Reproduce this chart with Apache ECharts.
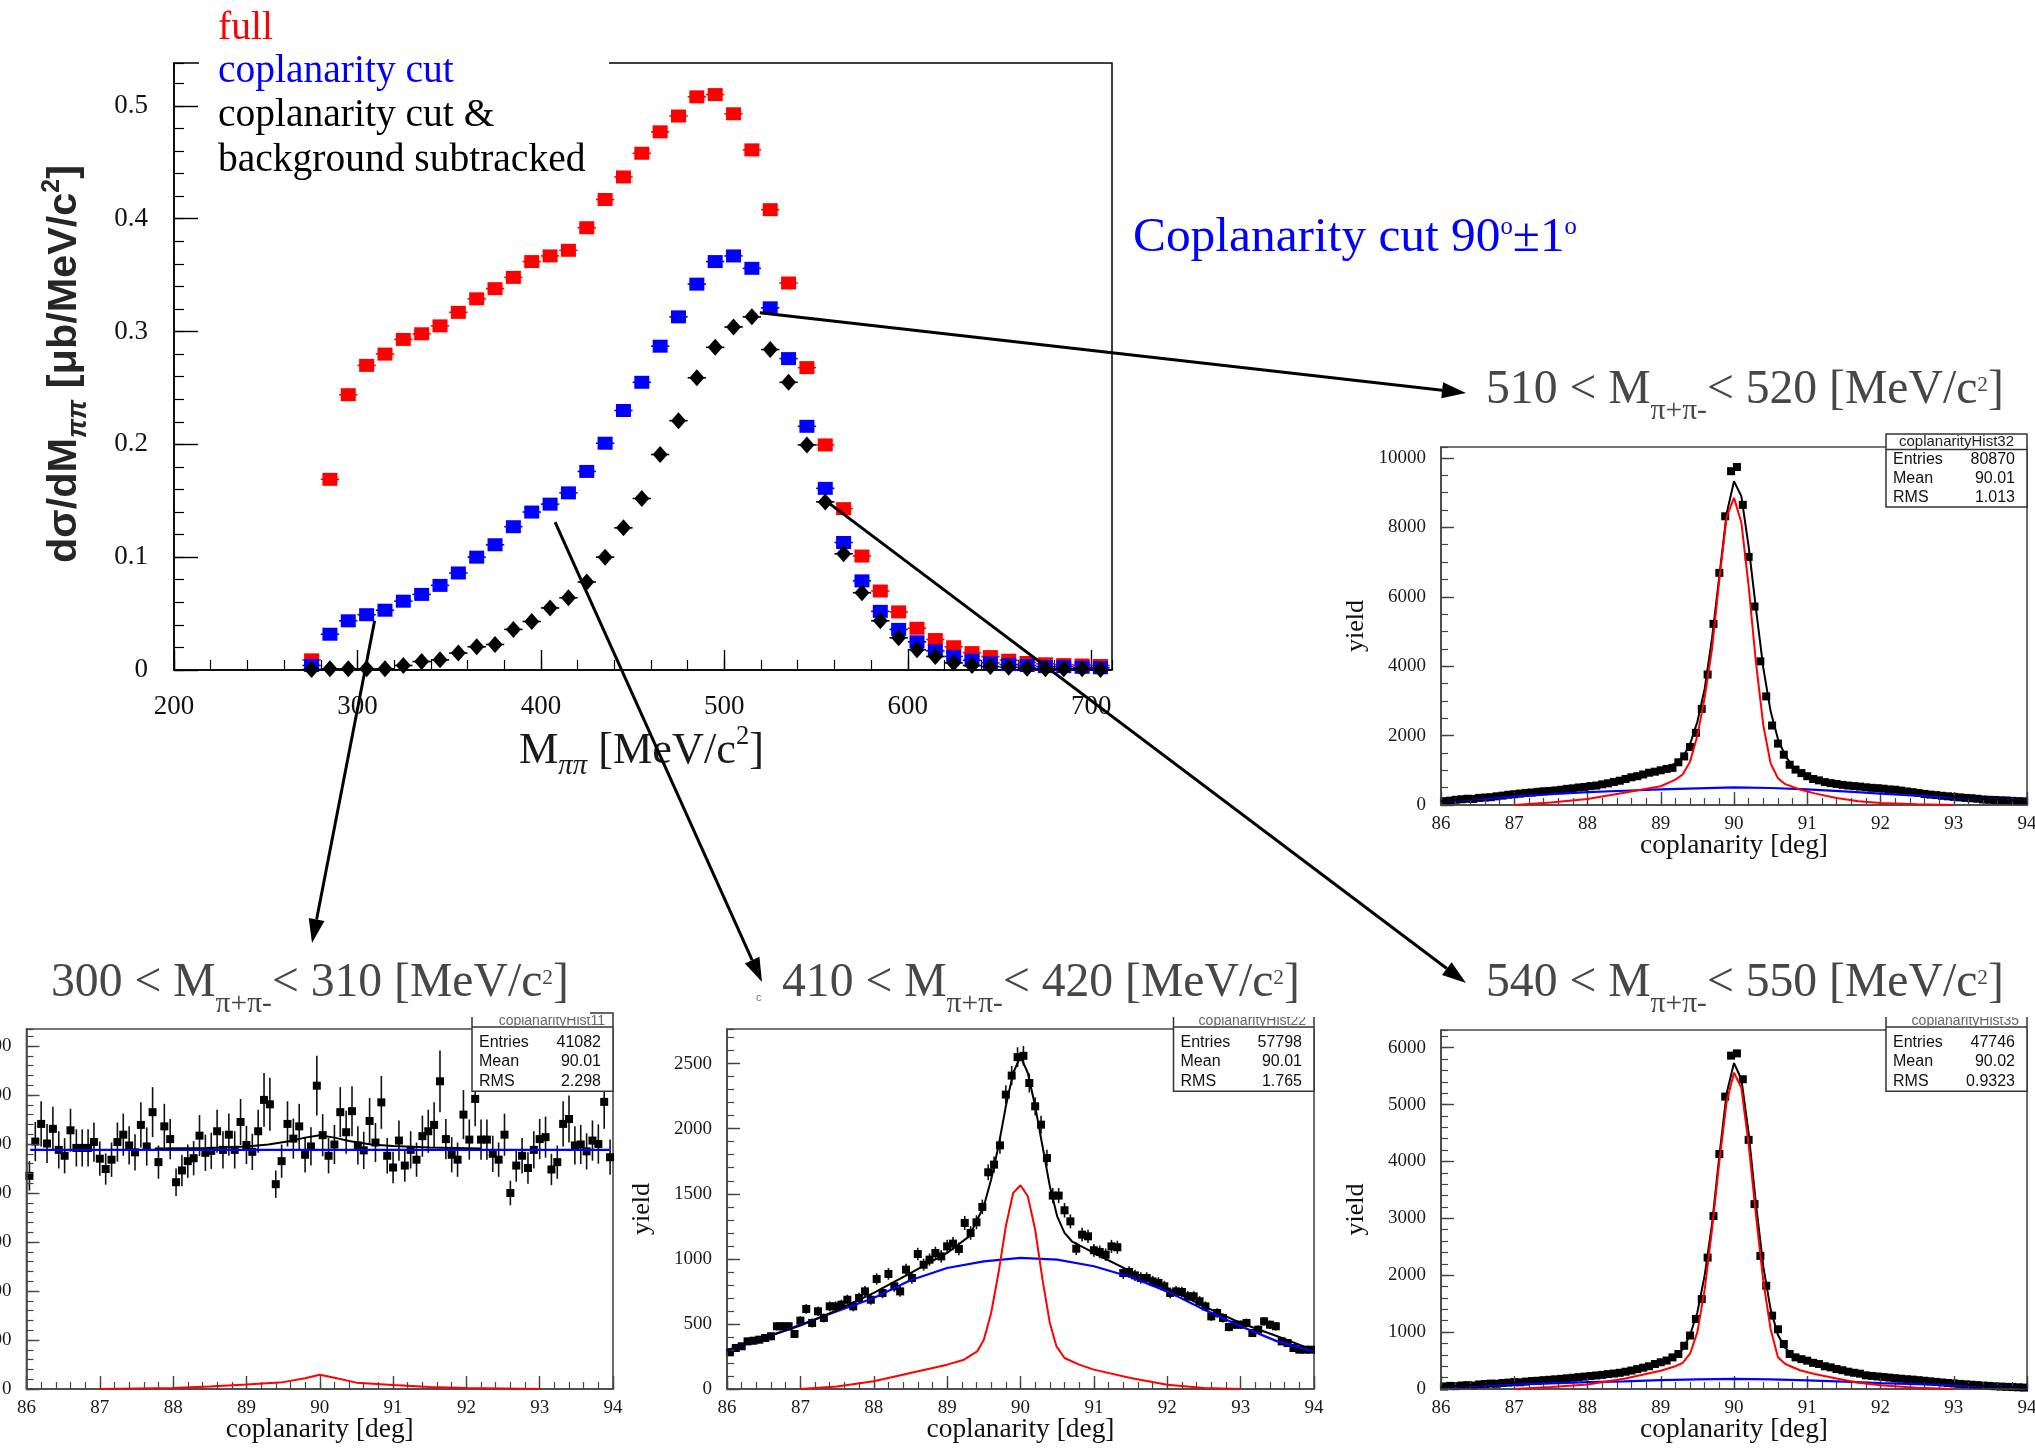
<!DOCTYPE html>
<html>
<head>
<meta charset="utf-8">
<script src="https://cdn.jsdelivr.net/npm/echarts/dist/echarts.min.js"></script>
<style>
  html, body { margin: 0; padding: 0; background: #fff; }
  #c { width: 2035px; height: 1452px; }
</style>
</head>
<body>
<div id="c"></div>
<script>
// ---------------------------------------------------------------------------
// d(sigma)/dM_pipi spectrum, 10 MeV bins
// ---------------------------------------------------------------------------
const massBins = [275, 285, 295, 305, 315, 325, 335, 345, 355, 365,
                  375, 385, 395, 405, 415, 425, 435, 445, 455, 465,
                  475, 485, 495, 505, 515, 525, 535, 545, 555, 565,
                  575, 585, 595, 605, 615, 625, 635, 645, 655, 665,
                  675, 685, 695, 705];
const sigmaFull = [0.009, 0.169, 0.244, 0.270, 0.280, 0.293, 0.298, 0.305, 0.317, 0.329,
                   0.338, 0.348, 0.362, 0.367, 0.372, 0.392, 0.417, 0.437, 0.458, 0.477,
                   0.491, 0.508, 0.510, 0.493, 0.461, 0.408, 0.343, 0.268, 0.1995, 0.143,
                   0.101, 0.070, 0.0515, 0.037, 0.027, 0.0206, 0.0154, 0.0119, 0.0087, 0.0067,
                   0.0055, 0.0048, 0.0044, 0.004];
const sigmaCoplanar = [0.004, 0.0317, 0.0436, 0.049, 0.053, 0.061, 0.067, 0.075, 0.086, 0.100,
                       0.111, 0.127, 0.140, 0.147, 0.157, 0.176, 0.201, 0.230, 0.255, 0.287,
                       0.313, 0.342, 0.362, 0.367, 0.356, 0.321, 0.276, 0.216, 0.161, 0.113,
                       0.079, 0.052, 0.036, 0.025, 0.017, 0.012, 0.0087, 0.0063, 0.0048, 0.004,
                       0.003, 0.003, 0.0024, 0.002];
const sigmaSubtracted = [0.0005, 0.001, 0.001, 0.001, 0.001, 0.004, 0.0075, 0.009, 0.015, 0.0206,
                         0.0226, 0.036, 0.043, 0.055, 0.064, 0.078, 0.100, 0.126, 0.152, 0.191,
                         0.221, 0.259, 0.286, 0.304, 0.313, 0.284, 0.255, 0.1995, 0.149, 0.103,
                         0.0685, 0.0436, 0.0285, 0.018, 0.012, 0.0063, 0.004, 0.003, 0.0024, 0.0016,
                         0.0012, 0.001, 0.001, 0.0004];
const MASS_BIN_HALF = 5;

// ---------------------------------------------------------------------------
// Coplanarity histograms, 100 bins of 0.08 deg between 86 and 94 deg
// ---------------------------------------------------------------------------
const coplanarityBins = [
  86.04, 86.12, 86.2, 86.28, 86.36, 86.44, 86.52, 86.6, 86.68, 86.76,
  86.84, 86.92, 87, 87.08, 87.16, 87.24, 87.32, 87.4, 87.48, 87.56,
  87.64, 87.72, 87.8, 87.88, 87.96, 88.04, 88.12, 88.2, 88.28, 88.36,
  88.44, 88.52, 88.6, 88.68, 88.76, 88.84, 88.92, 89, 89.08, 89.16,
  89.24, 89.32, 89.4, 89.48, 89.56, 89.64, 89.72, 89.8, 89.88, 89.96,
  90.04, 90.12, 90.2, 90.28, 90.36, 90.44, 90.52, 90.6, 90.68, 90.76,
  90.84, 90.92, 91, 91.08, 91.16, 91.24, 91.32, 91.4, 91.48, 91.56,
  91.64, 91.72, 91.8, 91.88, 91.96, 92.04, 92.12, 92.2, 92.28, 92.36,
  92.44, 92.52, 92.6, 92.68, 92.76, 92.84, 92.92, 93, 93.08, 93.16,
  93.24, 93.32, 93.4, 93.48, 93.56, 93.64, 93.72, 93.8, 93.88, 93.96];

// 510 < M < 520
const yield510 = [
  110, 125, 150, 165, 180, 175, 205, 215, 225, 250,
  270, 295, 310, 330, 350, 360, 380, 395, 405, 420,
  440, 465, 480, 505, 520, 545, 560, 595, 625, 665,
  700, 750, 800, 830, 880, 930, 960, 1000, 1040, 1070,
  1230, 1400, 1670, 2080, 2770, 3760, 5220, 6690, 8320, 9620,
  9740, 8650, 7150, 5720, 4140, 3130, 2290, 1770, 1450, 1160,
  1020, 920, 830, 750, 710, 660, 630, 605, 580, 560,
  545, 530, 510, 495, 485, 470, 450, 440, 415, 390,
  370, 345, 320, 300, 285, 265, 250, 235, 220, 205,
  195, 180, 160, 150, 145, 135, 130, 120, 110, 105];
const fit510Total = [[86, 105], [86.5, 200], [87, 310], [87.5, 410], [88, 535], [88.5, 720], [88.8, 900],
  [89, 1000], [89.2, 1200], [89.3, 1380], [89.4, 1750], [89.5, 2400], [89.6, 3350], [89.7, 4800],
  [89.8, 6600], [89.9, 8400], [90, 9330], [90.1, 8900], [90.2, 7450], [90.3, 5650], [90.4, 3950],
  [90.5, 2700], [90.6, 1900], [90.7, 1420], [90.8, 1120], [91, 860], [91.2, 710], [91.5, 590],
  [92, 480], [92.5, 350], [93, 240], [93.5, 155], [94, 100]];
const fit510Signal = [[87, 0], [87.5, 70], [88, 170], [88.5, 350], [89, 540], [89.2, 730], [89.3, 880],
  [89.4, 1250], [89.5, 2000], [89.6, 3100], [89.7, 4500], [89.8, 6500], [89.9, 8300], [90, 8850],
  [90.1, 8150], [90.2, 6300], [90.3, 4100], [90.4, 2300], [90.5, 1200], [90.6, 770], [90.7, 600],
  [90.9, 445], [91.1, 335], [91.4, 200], [91.7, 110], [92, 60], [92.5, 20], [93, 0]];
const fit510Bkg = [[86, 110], [86.5, 170], [87, 240], [87.5, 310], [88, 370], [88.5, 410], [89, 450],
  [89.5, 480], [90, 510], [90.5, 490], [91, 450], [91.5, 390], [92, 330], [92.5, 270], [93, 210],
  [93.5, 160], [94, 110]];

// 300 < M < 310
const yield300 = [
  435, 505, 541, 501, 531, 488, 476, 528, 492, 492,
  492, 504, 470, 449, 468, 504, 519, 497, 483, 539,
  495, 565, 463, 536, 510, 422, 446, 465, 471, 517,
  482, 486, 526, 488, 519, 488, 545, 498, 484, 526,
  590, 581, 418, 465, 541, 511, 536, 478, 495, 619,
  518, 476, 499, 565, 524, 567, 497, 487, 547, 503,
  585, 476, 452, 507, 456, 488, 468, 516, 526, 539,
  628, 510, 478, 468, 560, 509, 592, 509, 509, 480,
  468, 519, 400, 456, 476, 451, 488, 510, 514, 448,
  463, 541, 551, 497, 499, 485, 507, 500, 586, 473];
const yield300Err = [
  30, 40, 46, 40, 45, 38, 36, 44, 38, 38,
  38, 40, 35, 32, 35, 40, 43, 39, 37, 46,
  39, 51, 34, 46, 41, 28, 32, 34, 35, 42,
  37, 37, 44, 38, 43, 38, 47, 39, 37, 44,
  55, 54, 28, 34, 46, 41, 46, 36, 39, 61,
  43, 36, 40, 51, 44, 51, 39, 38, 47, 40,
  54, 36, 32, 41, 33, 38, 35, 42, 44, 46,
  63, 41, 36, 35, 50, 41, 56, 41, 41, 37,
  35, 43, 25, 33, 36, 32, 38, 41, 42, 32,
  34, 46, 48, 39, 40, 37, 41, 40, 55, 36];
const fit300Total = [[87.75, 491], [88.5, 492], [89, 495], [89.3, 499], [89.6, 506], [89.8, 513],
  [90, 518], [90.2, 513], [90.4, 506], [90.7, 499], [91, 496], [91.5, 493], [92.2, 491]];
const fit300Signal = [[87, 0], [88, 2], [88.5, 5], [89, 9], [89.5, 14], [89.8, 22], [90, 29],
  [90.2, 23], [90.5, 13], [91, 8], [91.5, 4], [92, 2], [93, 0]];
const fit300Bkg = [[86.05, 488], [90, 488], [93.95, 488]];

// 410 < M < 420
const yield410 = [
  282, 315, 328, 366, 371, 379, 392, 405, 482, 482,
  482, 423, 525, 615, 507, 597, 546, 635, 635, 648,
  686, 635, 699, 750, 686, 845, 738, 884, 789, 750,
  917, 853, 1037, 955, 994, 1045, 1019, 1096, 1117, 1076,
  1276, 1199, 1281, 1399, 1665, 1724, 1872, 2262, 2408, 2550,
  2560, 2351, 2172, 2031, 1775, 1486, 1486, 1373, 1288, 1078,
  1186, 1173, 1066, 1053, 1032, 1096, 1089, 891, 899, 873,
  853, 853, 827, 815, 789, 738, 750, 745, 712, 712,
  674, 635, 558, 584, 546, 476, 494, 494, 507, 430,
  456, 520, 494, 482, 366, 353, 315, 302, 302, 302];
const yield410Err = [
  25, 27, 27, 29, 29, 29, 30, 30, 33, 33,
  33, 31, 34, 37, 34, 37, 35, 38, 38, 38,
  39, 38, 40, 41, 39, 44, 41, 45, 42, 41,
  45, 44, 48, 46, 47, 48, 48, 50, 50, 49,
  54, 52, 54, 56, 61, 62, 65, 71, 74, 76,
  76, 73, 70, 68, 63, 58, 58, 56, 54, 49,
  52, 51, 49, 49, 48, 50, 50, 45, 45, 44,
  44, 44, 43, 43, 42, 41, 41, 41, 40, 40,
  39, 38, 35, 36, 35, 33, 33, 33, 34, 31,
  32, 34, 33, 33, 29, 28, 27, 26, 26, 26];
const fit410Total = [[86, 297], [86.5, 392], [87, 487], [87.5, 605], [88, 738], [88.5, 891], [89, 1045],
  [89.3, 1173], [89.5, 1404], [89.6, 1609], [89.7, 1865], [89.8, 2172], [89.9, 2428], [90, 2556],
  [90.1, 2428], [90.2, 2172], [90.3, 1865], [90.4, 1557], [90.5, 1327], [90.6, 1199], [90.7, 1135],
  [91, 1045], [91.5, 904], [92, 776], [92.5, 635], [93, 507], [93.5, 405], [94, 297]];
const fit410Signal = [[87, 0], [87.5, 20], [88, 59], [88.5, 123], [89, 187], [89.23, 225], [89.41, 289],
  [89.5, 379], [89.6, 584], [89.7, 891], [89.8, 1250], [89.9, 1506], [90, 1565], [90.1, 1481],
  [90.2, 1224], [90.3, 840], [90.4, 507], [90.49, 328], [90.6, 238], [90.8, 187], [91, 149],
  [91.5, 85], [92, 33], [92.5, 8], [93, 0]];
const fit410Bkg = [[86, 297], [86.5, 392], [87, 494], [87.5, 597], [88, 699], [88.5, 835], [89, 930],
  [89.5, 981], [90, 1007], [90.5, 994], [91, 943], [91.5, 861], [92, 750], [92.5, 610], [93, 482],
  [93.5, 366], [94, 289]];

// 540 < M < 550
const yield540 = [
  45, 55, 50, 62, 68, 60, 80, 88, 95, 92,
  105, 112, 120, 118, 130, 140, 145, 155, 162, 170,
  178, 188, 198, 208, 218, 228, 238, 248, 262, 272,
  285, 304, 325, 350, 375, 400, 440, 470, 500, 556,
  615, 760, 940, 1230, 1580, 2310, 3040, 4130, 5140, 5860,
  5900, 5445, 4380, 3250, 2340, 1815, 1290, 1050, 790, 615,
  556, 525, 498, 460, 439, 400, 380, 351, 330, 304,
  285, 270, 240, 230, 220, 210, 200, 190, 180, 172,
  165, 155, 145, 135, 125, 115, 105, 98, 90, 82,
  75, 68, 60, 55, 48, 42, 38, 34, 30, 25];
const fit540Total = [[86, 40], [86.5, 75], [87, 115], [87.5, 165], [88, 215], [88.5, 295], [88.8, 370],
  [89, 450], [89.2, 580], [89.3, 700], [89.4, 950], [89.5, 1350], [89.6, 2000], [89.7, 2900],
  [89.8, 4100], [89.9, 5200], [90, 5730], [90.1, 5450], [90.2, 4500], [90.3, 3250], [90.4, 2150],
  [90.5, 1400], [90.6, 950], [90.7, 720], [90.8, 600], [91, 490], [91.2, 420], [91.5, 320],
  [92, 210], [92.5, 150], [93, 95], [93.5, 50], [94, 25]];
const fit540Signal = [[87, 0], [87.5, 35], [88, 80], [88.5, 180], [89, 320], [89.2, 400], [89.3, 460],
  [89.4, 620], [89.5, 1000], [89.6, 1750], [89.7, 2800], [89.8, 4000], [89.9, 5050], [90, 5560],
  [90.1, 5300], [90.2, 4300], [90.3, 3050], [90.4, 1900], [90.5, 1050], [90.6, 560], [90.7, 440],
  [90.9, 330], [91.1, 265], [91.4, 185], [91.7, 110], [92, 65], [92.5, 20], [93, 0]];
const fit540Bkg = [[86, 35], [86.5, 60], [87, 80], [87.5, 100], [88, 120], [88.5, 135], [89, 155],
  [89.5, 168], [90, 178], [90.5, 170], [91, 150], [91.5, 128], [92, 105], [92.5, 85], [93, 65],
  [93.5, 45], [94, 30]];

// Axis ranges: [min, max, major step, minor step]
const mainXRange = [200, 711.3, 100, 20];
const mainYRange = [0, 0.538, 0.1, 0.02];
const coplXRange = [86, 94, 1, 0.2];
const yRange510 = [0, 10317, 2000, 500];
const yRange300 = [0, 734.7, 100, 20];
const yRange410 = [0, 2766, 500, 100];
const yRange540 = [0, 6311, 1000, 200];

// Fit-statistics boxes
const stats510 = { header: 'coplanarityHist32', rows: [['Entries', '80870'], ['Mean', '90.01'], ['RMS', '1.013']] };
const stats300 = { header: 'coplanarityHist11', rows: [['Entries', '41082'], ['Mean', '90.01'], ['RMS', '2.298']] };
const stats410 = { header: 'coplanarityHist22', rows: [['Entries', '57798'], ['Mean', '90.01'], ['RMS', '1.765']] };
const stats540 = { header: 'coplanarityHist35', rows: [['Entries', '47746'], ['Mean', '90.02'], ['RMS', '0.9323']] };

// ---------------------------------------------------------------------------
const SERIF_NAME = 'Liberation Serif';
const SERIF = "'Liberation Serif', 'Times New Roman', serif";
const SANS = "'Liberation Sans', Arial, sans-serif";
const RED = '#ff0000', BLUE = '#0000ff', BLACK = '#000000';

const chart = echarts.init(document.getElementById('c'));

// Plot areas: 0 = spectrum, 1 = 510-520, 2 = 300-310, 3 = 410-420, 4 = 540-550
const gridBoxes = [
  { left: 174, top: 63, width: 938, height: 607 },
  { left: 1441, top: 447, width: 586, height: 358 },
  { left: 26.5, top: 1029, width: 586.5, height: 360 },
  { left: 727, top: 1029, width: 587, height: 360 },
  { left: 1441, top: 1030, width: 586, height: 359 },
];
const axisDefs = [
  { x: mainXRange, y: mainYRange },
  { x: coplXRange, y: yRange510 },
  { x: coplXRange, y: yRange300 },
  { x: coplXRange, y: yRange410 },
  { x: coplXRange, y: yRange540 },
];

const grids = gridBoxes.map((b, i) => Object.assign({
  show: true,
  backgroundColor: 'transparent',
  borderColor: i === 0 ? '#000' : '#4a4a4a',
  borderWidth: i === 0 ? 1.5 : 1.6,
  containLabel: false,
  outerBoundsMode: 'none',
}, b));

const xAxes = [], yAxes = [];
function axisPair(g, dim, r, main) {
  const color = main ? '#000' : '#444';
  const isX = dim === 'x';
  const major = {
    type: 'value', gridIndex: g, min: r[0], max: r[1], interval: r[2],
    position: isX ? 'bottom' : 'left',
    axisLine: { show: true, onZero: false, lineStyle: { color, width: 1.5 } },
    axisTick: { show: true, inside: true, length: main ? (isX ? 20 : 24) : 13, lineStyle: { color, width: 1.4 } },
    axisLabel: {
      show: true,
      showMinLabel: true,
      showMaxLabel: isX && !main,
      margin: main ? (isX ? 23 : 26) : (isX ? 10 : 15),
      fontFamily: SERIF_NAME,
      fontSize: main ? 27 : 19,
      color: main ? '#111' : '#1a1a1a',
      formatter: (v) => {
        if (main && !isX) return v === 0 ? '0' : v.toFixed(1);
        return String(Math.round(v * 1000) / 1000);
      },
    },
    splitLine: { show: false },
    z: 5,
  };
  const minor = {
    type: 'value', gridIndex: g, min: r[0], max: r[1], interval: r[3],
    position: isX ? 'bottom' : 'left',
    axisLine: { show: false, onZero: false },
    axisTick: { show: true, inside: true, length: main ? 10 : 7, lineStyle: { color, width: 1.2 } },
    axisLabel: { show: false },
    splitLine: { show: false },
    z: 5,
  };
  return [major, minor];
}
const minorX = [], minorY = [];
axisDefs.forEach((d, g) => {
  const [mx, nx] = axisPair(g, 'x', d.x, g === 0);
  const [my, ny] = axisPair(g, 'y', d.y, g === 0);
  xAxes.push(mx); yAxes.push(my);
  minorX.push(nx); minorY.push(ny);
});
xAxes.push(...minorX);
yAxes.push(...minorY);

// --- series --------------------------------------------------------------
const series = [];

// bin-width bars on the spectrum points
function binBar(color) {
  return (params, api) => {
    const x = api.value(0), y = api.value(1);
    const a = api.coord([x - MASS_BIN_HALF, y]);
    const b = api.coord([x + MASS_BIN_HALF, y]);
    return { type: 'line', shape: { x1: a[0], y1: a[1], x2: b[0], y2: b[1] }, style: { stroke: color, lineWidth: 1.6 } };
  };
}
const spectrumSets = [
  { name: 'full', values: sigmaFull, color: RED, symbol: 'rect', size: [15, 13], z: 10 },
  { name: 'coplanarity cut', values: sigmaCoplanar, color: BLUE, symbol: 'rect', size: [15, 13], z: 12 },
  { name: 'coplanarity cut & background subtracked', values: sigmaSubtracted, color: BLACK, symbol: 'diamond', size: [15, 17], z: 14 },
];
spectrumSets.forEach((s) => {
  const pts = massBins.map((m, i) => [m, s.values[i]]);
  series.push({
    type: 'custom', coordinateSystem: 'cartesian2d', xAxisIndex: 0, yAxisIndex: 0,
    data: pts, renderItem: binBar(s.color), z: s.z, silent: true, animation: false,
  });
  series.push({
    type: 'scatter', name: s.name, xAxisIndex: 0, yAxisIndex: 0, data: pts,
    symbol: s.symbol, symbolSize: s.size, itemStyle: { color: s.color, opacity: 1 },
    z: s.z + 1, silent: true, animation: false,
  });
});

// vertical error bars for the coplanarity points
function errBar(params, api) {
  const x = api.value(0), y = api.value(1), e = api.value(2);
  const a = api.coord([x, y - e]);
  const b = api.coord([x, y + e]);
  return { type: 'line', shape: { x1: a[0], y1: a[1], x2: b[0], y2: b[1] }, style: { stroke: '#111', lineWidth: 1.6 } };
}
const panels = [
  { g: 1, values: yield510, err: null, total: fit510Total, signal: fit510Signal, bkg: fit510Bkg },
  { g: 2, values: yield300, err: yield300Err, total: fit300Total, signal: fit300Signal, bkg: fit300Bkg },
  { g: 3, values: yield410, err: yield410Err, total: fit410Total, signal: fit410Signal, bkg: fit410Bkg },
  { g: 4, values: yield540, err: null, total: fit540Total, signal: fit540Signal, bkg: fit540Bkg },
];
panels.forEach((p) => {
  if (p.err) {
    series.push({
      type: 'custom', coordinateSystem: 'cartesian2d', xAxisIndex: p.g, yAxisIndex: p.g,
      data: coplanarityBins.map((c, i) => [c, p.values[i], p.err[i]]),
      renderItem: errBar, z: 3, silent: true, animation: false,
    });
  }
  series.push({
    type: 'scatter', xAxisIndex: p.g, yAxisIndex: p.g,
    data: coplanarityBins.map((c, i) => [c, p.values[i]]),
    symbol: 'rect', symbolSize: 8, itemStyle: { color: '#000', opacity: 1 },
    z: 4, silent: true, animation: false,
  });
  const line = (data, color, z, w) => ({
    type: 'line', xAxisIndex: p.g, yAxisIndex: p.g, data, showSymbol: false, symbol: 'none',
    lineStyle: { color, width: w }, z, silent: true, animation: false, clip: true,
  });
  series.push(line(p.bkg, BLUE, 5, 2.2));
  series.push(line(p.total, BLACK, 6, 2));
  series.push(line(p.signal, RED, 7, 2));
});

chart.setOption({
  animation: false,
  backgroundColor: '#ffffff',
  textStyle: { fontFamily: SERIF_NAME },
  grid: grids,
  xAxis: xAxes,
  yAxis: yAxes,
  series,
});

// --- text and annotation layer ---------------------------------------------
const measureCtx = document.createElement('canvas').getContext('2d');
function measure(text, font) { measureCtx.font = font; return measureCtx.measureText(text).width; }

function layoutRun(pieces, o) {
  const items = [];
  let x = 0;
  for (const p of pieces) {
    const k = p.k || 'n';
    const size = k === 'n' ? o.size : o.size * (k === 'sub' ? o.subScale : o.supScale);
    const dy = k === 'sub' ? o.size * o.subDrop : (k === 'sup' ? -o.size * o.supRise : 0);
    const font = `${p.italic ? 'italic' : 'normal'} ${o.weight} ${size.toFixed(2)}px ${o.family}`;
    const w = measure(p.t, font);
    items.push({ text: p.t, x, dy, size, font, color: p.color || o.color });
    x += w;
  }
  return { items, width: x };
}
// One line of text (with sub/superscripts) anchored on its baseline.
function textRun(pieces, o) {
  const opt = Object.assign({ subScale: 0.62, subDrop: 0.28, supScale: 0.5, supRise: 0.4, weight: 'normal', z: 60 }, o);
  let lay = layoutRun(pieces, opt);
  if (opt.targetWidth) {
    opt.size = opt.size * opt.targetWidth / lay.width;
    lay = layoutRun(pieces, opt);
  }
  const x0 = opt.align === 'center' ? -lay.width / 2 : 0;
  return {
    type: 'group', x: opt.x, y: opt.y, rotation: opt.rotation || 0, z: opt.z,
    children: lay.items.map((it) => ({
      type: 'text', x: x0 + it.x, y: it.dy - 0.34 * it.size, z: opt.z,
      style: { text: it.text, font: it.font, fill: it.color, textAlign: 'left', textVerticalAlign: 'middle', verticalAlign: 'middle' },
    })),
  };
}

const gfx = [];

// legend block of the spectrum, drawn on a white card over the frame
gfx.push({ type: 'rect', shape: { x: 199, y: 40, width: 410, height: 142 }, style: { fill: '#fff' }, z: 50 });
const legendSize = 39.5;
[
  ['full', RED, 42.5],
  ['coplanarity cut', BLUE, 85.5],
  ['coplanarity cut &', BLACK, 129],
  ['background subtracked', BLACK, 174],
].forEach(([t, c, base]) => {
  gfx.push(textRun([{ t }], { x: 218, y: base, size: legendSize, family: SERIF, color: c }));
});

// spectrum axis titles
gfx.push(textRun(
  [{ t: 'M' }, { t: 'ππ', k: 'sub', italic: true }, { t: ' [MeV/c' }, { t: '2', k: 'sup' }, { t: ']' }],
  { x: 519, y: 766, size: 40, family: SERIF, color: '#1a1a1a', targetWidth: 245, supScale: 0.6, supRise: 0.45, subScale: 0.65, subDrop: 0.22 }));
gfx.push(textRun(
  [{ t: 'dσ/dM' }, { t: 'ππ', k: 'sub', italic: true }, { t: ' [μb/MeV/c' }, { t: '2', k: 'sup' }, { t: ']' }],
  { x: 79, y: 364, rotation: Math.PI / 2, align: 'center', size: 36, family: SANS, weight: 'bold', color: '#262626', targetWidth: 398, supScale: 0.6, supRise: 0.45, subScale: 0.65, subDrop: 0.22 }));

// cut annotation
gfx.push(textRun(
  [{ t: 'Coplanarity cut 90' }, { t: 'o', k: 'sup' }, { t: '±1' }, { t: 'o', k: 'sup' }],
  { x: 1133, y: 255, size: 48, family: SERIF, color: BLUE, targetWidth: 444, supScale: 0.5, supRise: 0.38 }));

// panel titles
function rangeTitle(lo, hi, left, base) {
  return textRun(
    [{ t: `${lo} < M` }, { t: 'π+π-', k: 'sub' }, { t: `< ${hi} [MeV/c` }, { t: '2', k: 'sup' }, { t: ']' }],
    { x: left, y: base, size: 47, family: SERIF, color: '#474747', targetWidth: 518, subScale: 0.62, subDrop: 0.3, supScale: 0.45, supRise: 0.3, z: 62 });
}
gfx.push(rangeTitle(510, 520, 1486, 406.5));
gfx.push(rangeTitle(300, 310, 51, 1000));
gfx.push(rangeTitle(410, 420, 782, 1000));
gfx.push(rangeTitle(540, 550, 1486, 1000));
gfx.push({ type: 'text', x: 756, y: 998, z: 62, style: { text: 'c', font: `11px ${SANS}`, fill: '#777', textVerticalAlign: 'middle', verticalAlign: 'middle' } });

// panel axis titles
[1, 2, 3, 4].forEach((g) => {
  const b = gridBoxes[g];
  gfx.push(textRun([{ t: 'coplanarity [deg]' }],
    { x: b.left + b.width / 2, y: b.top + b.height + 50, align: 'center', size: 26, family: SERIF, color: '#111', targetWidth: 188 }));
  if (g !== 2) {
    gfx.push(textRun([{ t: 'yield' }],
      { x: b.left - 76, y: b.top + b.height / 2, rotation: Math.PI / 2, align: 'center', size: 26, family: SERIF, color: '#111' }));
  }
});

// statistics boxes
function statsBox(s, x, top, w, sep, rowYs, cover) {
  const right = x + w;
  gfx.push({ type: 'rect', shape: { x, y: top, width: w, height: rowYs[2] + 9.5 - top }, style: { fill: '#fff', stroke: '#333', lineWidth: 1.5 }, z: 64 });
  gfx.push({ type: 'line', shape: { x1: x, y1: sep, x2: right, y2: sep }, style: { stroke: '#333', lineWidth: 1.5 }, z: 65 });
  gfx.push({ type: 'text', x: cover ? right - 8 : x + w / 2, y: (top + sep) / 2 + (cover ? 1 : 0), z: 65,
    style: { text: s.header, font: `${cover ? 14 : 15}px ${SANS}`, fill: cover ? '#666' : '#222', textAlign: cover ? 'right' : 'center', textVerticalAlign: 'middle', verticalAlign: 'middle' } });
  s.rows.forEach(([k, v], i) => {
    gfx.push({ type: 'text', x: x + 7, y: rowYs[i], z: 65,
      style: { text: k, font: `16px ${SANS}`, fill: '#111', textAlign: 'left', textVerticalAlign: 'middle', verticalAlign: 'middle' } });
    gfx.push({ type: 'text', x: right - 12, y: rowYs[i], z: 65,
      style: { text: v, font: `16px ${SANS}`, fill: '#111', textAlign: 'right', textVerticalAlign: 'middle', verticalAlign: 'middle' } });
  });
  if (cover) {
    gfx.push({ type: 'rect', shape: { x: x - 2, y: top - 6, width: cover - x + 2, height: sep - top - 4 }, style: { fill: '#fff' }, z: 66 });
  }
}
statsBox(stats510, 1886, 434, 141, 449.5, [459.5, 478.5, 497.5], 0);
statsBox(stats300, 472, 1013, 141, 1027, [1042.3, 1061.7, 1081.7], 590);
statsBox(stats410, 1173.5, 1013, 140.5, 1027, [1042.3, 1061.7, 1081.7], 1316);
statsBox(stats540, 1886, 1013, 141, 1027, [1042.3, 1061.7, 1081.7], 2029);

// arrows from the selected spectrum bins to their coplanarity panels
function arrow(p0, p1) {
  const ang = Math.atan2(p1[1] - p0[1], p1[0] - p0[0]);
  const L = 24, W = 8;
  const bx = p1[0] - L * Math.cos(ang), by = p1[1] - L * Math.sin(ang);
  const nx = -Math.sin(ang), ny = Math.cos(ang);
  gfx.push({ type: 'line', shape: { x1: p0[0], y1: p0[1], x2: bx, y2: by }, style: { stroke: '#000', lineWidth: 3 }, z: 80 });
  gfx.push({ type: 'polygon', shape: { points: [[p1[0], p1[1]], [bx + nx * W, by + ny * W], [bx - nx * W, by - ny * W]] }, style: { fill: '#000' }, z: 80 });
}
const toPx = (arr, i) => chart.convertToPixel({ gridIndex: 0 }, [massBins[i], arr[i]]);
const iOf = (m) => massBins.indexOf(m);
const s515 = toPx(sigmaSubtracted, iOf(515));
const c305 = toPx(sigmaCoplanar, iOf(305));
const c405 = toPx(sigmaCoplanar, iOf(405));
const s555 = toPx(sigmaSubtracted, iOf(555));
arrow([s515[0] + 8, s515[1] - 4], [1466, 393]);
arrow([c305[0] + 8, c305[1] + 6], [312, 943]);
arrow([c405[0] + 5, c405[1] + 18], [762, 982]);
arrow([s555[0] + 2, s555[1]], [1466, 983]);

chart.setOption({ graphic: gfx });
</script>
</body>
</html>
